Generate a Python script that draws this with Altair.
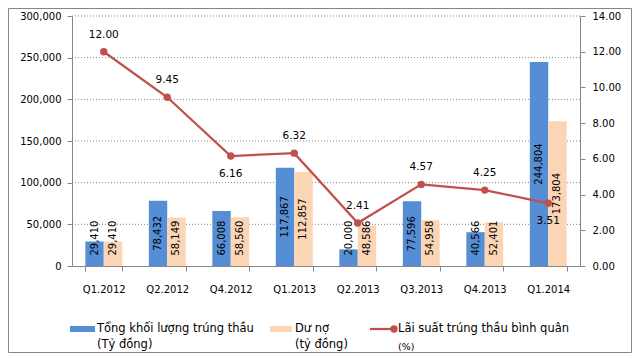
import altair as alt
import pandas as pd

# ---------------- data ----------------
quarters = ["Q1.2012", "Q2.2012", "Q4.2012", "Q1.2013", "Q2.2013", "Q3.2013", "Q4.2013", "Q1.2014"]
volume = [29410, 78432, 66008, 117867, 20000, 77596, 40566, 244804]
outstanding = [29410, 58149, 58560, 112857, 48586, 54958, 52401, 173804]
rate = [12.00, 9.45, 6.16, 6.32, 2.41, 4.57, 4.25, 3.51]
rate_label_side = ["above", "above", "below", "above", "above", "above", "above", "below"]

series_names = ["Tổng khối lượng trúng thầu", "Dư nợ"]
legend_lines = [
    ["Tổng khối lượng trúng  thầu", "(Tỷ đồng)"],
    ["Dư nợ", "(tỷ đồng)"],
    ["Lãi suất trúng thầu bình  quân", "(%)"],
]
left_ticks = [0, 50000, 100000, 150000, 200000, 250000, 300000]
right_ticks = [0, 2, 4, 6, 8, 10, 12, 14]

bars_df = pd.DataFrame({
    "quarter": quarters * 2,
    "series": [series_names[0]] * len(quarters) + [series_names[1]] * len(quarters),
    "value": volume + outstanding,
})
rate_df = pd.DataFrame({"quarter": quarters, "rate": rate, "side": rate_label_side})
grid_df = pd.DataFrame({"value": left_ticks[1:]})

# ---------------- style ----------------
BLUE = "#558ED5"
ORANGE = "#FCD5B5"
RED = "#C0504D"
GRAY = "#868686"
FONT = "DejaVu Sans"

x_enc = alt.X(
    "quarter:N", sort=quarters,
    scale=alt.Scale(paddingInner=0.42, paddingOuter=0.21),
    axis=alt.Axis(title=None, labelAngle=0, tickBand="extent", domainColor=GRAY,
                  tickColor=GRAY, tickSize=5, labelPadding=13, labelFontSize=10,
                  labelColor="black", grid=False),
)
left_scale = alt.Scale(domain=[0, 300000], nice=False, zero=True)
left_axis = alt.Axis(title=None, orient="left", values=left_ticks, format=",.0f",
                     grid=False, domainColor=GRAY, tickColor=GRAY, tickSize=5,
                     labelPadding=6, labelFontSize=10, labelColor="black")
right_scale = alt.Scale(domain=[0, 14], nice=False, zero=True)
right_axis = alt.Axis(title=None, orient="right", values=right_ticks, format=".2f",
                      grid=False, domainColor=GRAY, tickColor=GRAY, tickSize=5,
                      labelPadding=7, labelFontSize=10, labelColor="black")
xoff = alt.XOffset("series:N", sort=series_names)

grid = alt.Chart(grid_df).mark_rule(color=GRAY, strokeDash=[1, 2], strokeWidth=1).encode(
    y=alt.Y("value:Q", scale=left_scale, axis=left_axis),
)
bars = alt.Chart(bars_df).mark_bar().encode(
    x=x_enc,
    xOffset=xoff,
    y=alt.Y("value:Q", scale=left_scale, axis=left_axis),
    color=alt.Color("series:N", scale=alt.Scale(domain=series_names, range=[BLUE, ORANGE]),
                    legend=None),
)
bar_text = alt.Chart(bars_df).transform_calculate(
    lab_y="max(datum.value / 2, 33500)"
).mark_text(angle=270, fontSize=10, color="black", baseline="middle", align="center",
            font=FONT).encode(
    x=x_enc,
    xOffset=xoff,
    y=alt.Y("lab_y:Q", scale=left_scale, axis=left_axis),
    text=alt.Text("value:Q", format=","),
)
left = alt.layer(grid, bars, bar_text)

y_r = alt.Y("rate:Q", scale=right_scale, axis=right_axis)
line = alt.Chart(rate_df).mark_line(color=RED, strokeWidth=2.25).encode(x=x_enc, y=y_r)
pts = alt.Chart(rate_df).mark_circle(color=RED, size=55, opacity=1).encode(x=x_enc, y=y_r)
lab_above = alt.Chart(rate_df).transform_filter("datum.side == 'above'").mark_text(
    dy=-17, fontSize=10.5, color="black", font=FONT).encode(
    x=x_enc, y=y_r, text=alt.Text("rate:Q", format=".2f"))
lab_below = alt.Chart(rate_df).transform_filter("datum.side == 'below'").mark_text(
    dy=18, fontSize=10.5, color="black", font=FONT).encode(
    x=x_enc, y=y_r, text=alt.Text("rate:Q", format=".2f"))
right = alt.layer(line, pts, lab_above, lab_below)

# ---------------- legend & frame (decoration) ----------------
one = pd.DataFrame({"k": [0]})


def box(x1, x2, y1, y2, **kw):
    return alt.Chart(one).mark_rect(**kw).encode(
        x=alt.value(x1), x2=alt.value(x2), y=alt.value(y1), y2=alt.value(y2))


def txt(s, xp, yp, size=11.5):
    return alt.Chart(one).mark_text(align="left", baseline="middle", fontSize=size,
                                    color="black", font=FONT).encode(
        x=alt.value(xp), y=alt.value(yp), text=alt.value(s))


decor = [
    box(-63.5, 559.5, -7.5, 336.5, fill=None, fillOpacity=0, stroke=GRAY, strokeWidth=1),
    box(-2, 23, 310, 316, color=BLUE),
    txt(legend_lines[0][0], 25, 313),
    txt(legend_lines[0][1], 25, 329),
    box(198, 220, 310, 316, color=ORANGE),
    txt(legend_lines[1][0], 223, 313),
    txt(legend_lines[1][1], 223, 329),
    alt.Chart(one).mark_rule(color=RED, strokeWidth=2.25).encode(
        x=alt.value(298), x2=alt.value(323), y=alt.value(313)),
    alt.Chart(one).mark_circle(color=RED, size=55, opacity=1).encode(
        x=alt.value(322), y=alt.value(313)),
    txt(legend_lines[2][0], 326, 313, size=11.5),
    txt(legend_lines[2][1], 326, 331, size=9.5),
]

chart = alt.layer(left, right, *decor).resolve_scale(y="independent").properties(
    width=508, height=250,
    padding={"left": 64, "top": 8, "right": 52, "bottom": 87},
    autosize="none",
).configure_view(stroke=None).configure_axis(labelFont=FONT).configure_text(font=FONT)

chart.save("out.html", embed_options={"renderer": "svg", "actions": False})
